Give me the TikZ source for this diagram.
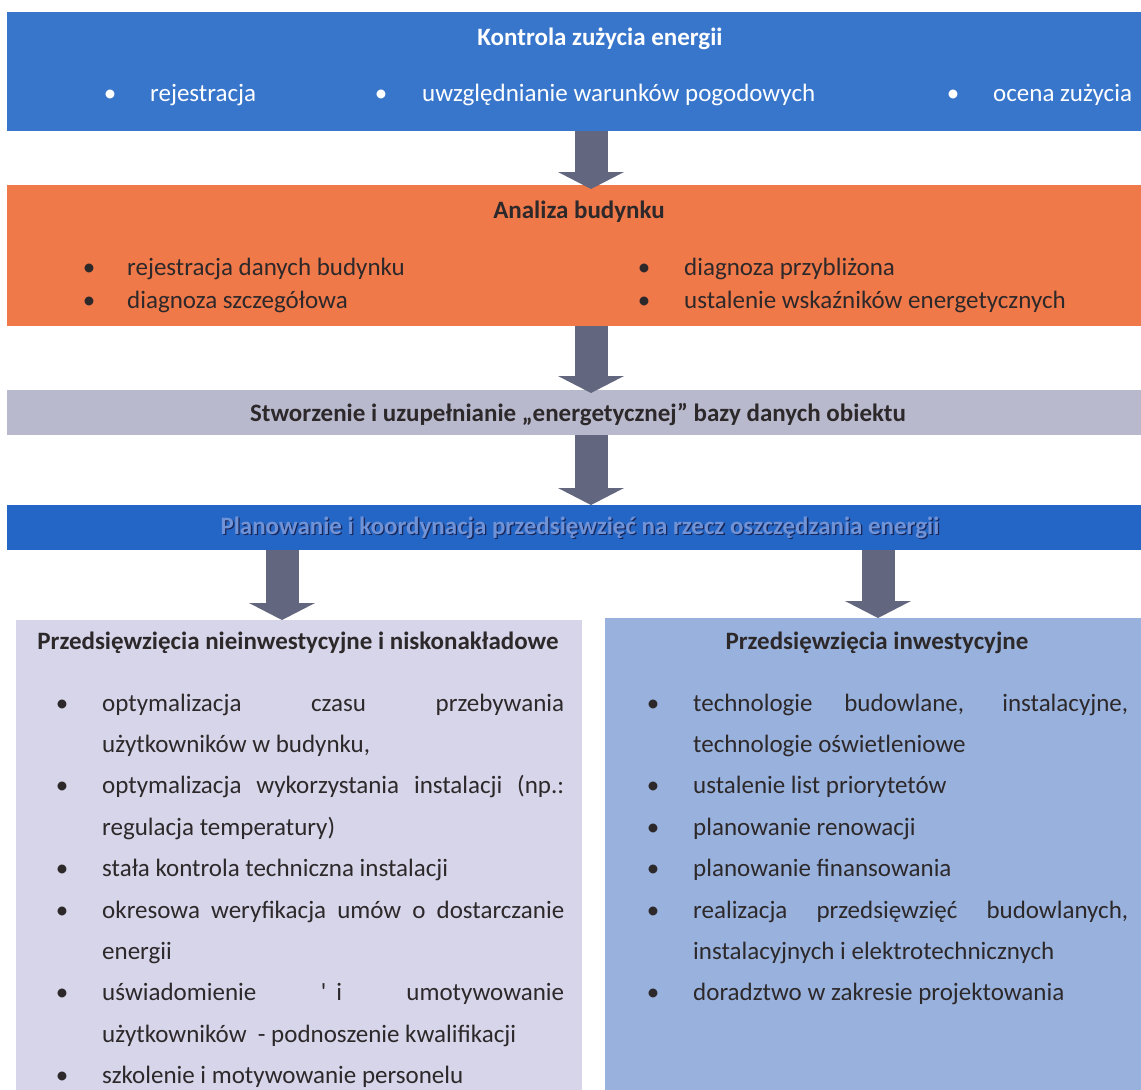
\documentclass[tikz,border=0pt]{standalone}
\usepackage{fontspec}
\setmainfont{Carlito}
\usetikzlibrary{arrows.meta}

\definecolor{niebieski}{RGB}{56,118,204}
\definecolor{pomarancz}{RGB}{240,121,74}
\definecolor{szarosc}{RGB}{185,185,205}
\definecolor{granat}{RGB}{36,102,198}
\definecolor{lawenda}{RGB}{214,213,233}
\definecolor{blekit}{RGB}{153,178,221}
\definecolor{strzalka}{RGB}{98,102,127}
\definecolor{ciemny}{RGB}{45,40,42}
\definecolor{jasny}{RGB}{112,146,214}
\definecolor{cien}{RGB}{24,38,88}

\begin{document}
\begin{tikzpicture}[x=1pt, y=-1pt]

	\tikzstyle{pasek}=[draw=none, anchor=north west, inner sep=0pt]
	\tikzstyle{tekst}=[inner sep=0pt, anchor=base west, text=ciemny, font=\fontsize{25pt}{30pt}\selectfont]
	\tikzstyle{tytul}=[tekst, anchor=base, font=\fontsize{25pt}{30pt}\selectfont\bfseries]
	\tikzstyle{kropka}=[tekst, anchor=base]
	\tikzstyle{strzala}=[draw=strzalka, line width=33pt, -{Triangle[width=66pt, length=17pt, line width=0pt]}]

	\fill[white] (0, 0) rectangle (1141, 1090);
	\useasboundingbox (0, 0) rectangle (1141, 1090);

	\coordinate (kontrola) at (7, 12);
	\coordinate (analiza) at (7, 185);
	\coordinate (baza) at (7, 390);
	\coordinate (plan) at (7, 505);
	\coordinate (box_l) at (16, 620);
	\coordinate (box_p) at (605, 618);

	\coordinate (a_m) at (591, 0); % STRZALKI SRODEK
	\coordinate (a_l) at (282, 0); % STRZALKA LEWA
	\coordinate (a_p) at (878, 0); % STRZALKA PRAWA

	%%%%%%%% PASKI %%%%%%%%
	\node[pasek, fill=niebieski, minimum width=1134pt, minimum height=119pt] (kontrola) at (kontrola) {};
	\node[pasek, fill=pomarancz, minimum width=1134pt, minimum height=141pt] (analiza) at (analiza) {};
	\node[pasek, fill=szarosc, minimum width=1134pt, minimum height=45pt] (baza) at (baza) {};
	\node[pasek, fill=granat, minimum width=1134pt, minimum height=45pt] (plan) at (plan) {};
	\node[pasek, fill=lawenda, minimum width=566pt, minimum height=470pt] (box_l) at (box_l) {};
	\node[pasek, fill=blekit, minimum width=536pt, minimum height=472pt] (box_p) at (box_p) {};

	%%%%%%%% KONTROLA ZUZYCIA ENERGII %%%%%%%%
	\node[tytul, text=white] (t_kontrola) at (600, 45) {Kontrola zużycia energii};
	\node[kropka, text=white] (k_1) at (110, 101) {•};
	\node[kropka, text=white] (k_2) at (381, 101) {•};
	\node[kropka, text=white] (k_3) at (953, 101) {•};
	\node[tekst, text=white] (r_1) at (150, 101) {rejestracja};
	\node[tekst, text=white] (r_2) at (422, 101) {uwzględnianie warunków pogodowych};
	\node[tekst, text=white] (r_3) at (993, 101) {ocena zużycia};

	%%%%%%%% ANALIZA BUDYNKU %%%%%%%%
	\node[tytul] (t_analiza) at (579, 218) {Analiza budynku};
	\node[kropka] (k_4) at (89, 275) {•};
	\node[kropka] (k_5) at (89, 308) {•};
	\node[kropka] (k_6) at (644, 275) {•};
	\node[kropka] (k_7) at (644, 308) {•};
	\node[tekst] (r_4) at (127, 275) {rejestracja danych budynku};
	\node[tekst] (r_5) at (127, 308) {diagnoza szczegółowa};
	\node[tekst] (r_6) at (684, 275) {diagnoza przybliżona};
	\node[tekst] (r_7) at (684, 308) {ustalenie wskaźników energetycznych};

	%%%%%%%% BAZA DANYCH %%%%%%%%
	\node[tytul] (t_baza) at (578, 421) {Stworzenie i uzupełnianie „energetycznej” bazy danych obiektu};

	%%%%%%%% PLANOWANIE %%%%%%%%
	\coordinate (t_plan) at (580, 534);
	\node[tytul, text=cien] (t_plan_c) at ([xshift=1.3pt, yshift=-1.3pt]t_plan) {Planowanie i koordynacja przedsięwzięć na rzecz oszczędzania energii};
	\node[tytul, text=jasny] (t_plan) at (t_plan) {Planowanie i koordynacja przedsięwzięć na rzecz oszczędzania energii};

	%%%%%%%% PRZEDSIEWZIECIA NIEINWESTYCYJNE %%%%%%%%
	\node[tytul] (t_box_l) at (298, 649) {Przedsięwzięcia nieinwestycyjne i niskonakładowe};
	\node[kropka] (k_l_1) at (62, 711) {•};
	\node[kropka] (k_l_2) at (62, 793.8) {•};
	\node[kropka] (k_l_3) at (62, 876.6) {•};
	\node[kropka] (k_l_4) at (62, 918) {•};
	\node[kropka] (k_l_5) at (62, 1000.8) {•};
	\node[kropka] (k_l_6) at (62, 1083.6) {•};
	\node[tekst] (l_1) at (102, 711) {\makebox[462pt][s]{optymalizacja czasu przebywania}};
	\node[tekst] (l_2) at (102, 752.4) {użytkowników w budynku,};
	\node[tekst] (l_3) at (102, 793.8) {\makebox[462pt][s]{optymalizacja wykorzystania instalacji (np.:}};
	\node[tekst] (l_4) at (102, 835.2) {regulacja temperatury)};
	\node[tekst] (l_5) at (102, 876.6) {stała kontrola techniczna instalacji};
	\node[tekst] (l_6) at (102, 918) {\makebox[462pt][s]{okresowa weryfikacja umów o dostarczanie}};
	\node[tekst] (l_7) at (102, 959.4) {energii};
	\node[tekst] (l_8) at (102, 1000.8) {\makebox[462pt][s]{uświadomienie \textquotesingle\hspace{10pt}i umotywowanie}};
	\node[tekst] (l_9) at (102, 1042.2) {użytkowników\ \ - podnoszenie kwalifikacji};
	\node[tekst] (l_10) at (102, 1083.6) {szkolenie i motywowanie personelu};

	%%%%%%%% PRZEDSIEWZIECIA INWESTYCYJNE %%%%%%%%
	\node[tytul] (t_box_p) at (877, 649) {Przedsięwzięcia inwestycyjne};
	\node[kropka] (k_p_1) at (653, 711) {•};
	\node[kropka] (k_p_2) at (653, 793.8) {•};
	\node[kropka] (k_p_3) at (653, 835.2) {•};
	\node[kropka] (k_p_4) at (653, 876.6) {•};
	\node[kropka] (k_p_5) at (653, 918) {•};
	\node[kropka] (k_p_6) at (653, 1000.8) {•};
	\node[tekst] (p_1) at (693, 711) {\makebox[435pt][s]{technologie budowlane, instalacyjne,}};
	\node[tekst] (p_2) at (693, 752.4) {technologie oświetleniowe};
	\node[tekst] (p_3) at (693, 793.8) {ustalenie list priorytetów};
	\node[tekst] (p_4) at (693, 835.2) {planowanie renowacji};
	\node[tekst] (p_5) at (693, 876.6) {planowanie finansowania};
	\node[tekst] (p_6) at (693, 918) {\makebox[435pt][s]{realizacja przedsięwzięć budowlanych,}};
	\node[tekst] (p_7) at (693, 959.4) {instalacyjnych i elektrotechnicznych};
	\node[tekst] (p_8) at (693, 1000.8) {doradztwo w zakresie projektowania};

	%%%%%%%% STRZALKI %%%%%%%%
	\draw[strzala] (kontrola.south -| a_m) -- ([yshift=-4pt]analiza.north -| a_m);
	\draw[strzala] (analiza.south -| a_m) -- ([yshift=-3pt]baza.north -| a_m);
	\draw[strzala] (baza.south -| a_m) -- (plan.north -| a_m);
	\draw[strzala] (plan.south -| a_l) -- (box_l.north -| a_l);
	\draw[strzala] (plan.south -| a_p) -- (box_p.north -| a_p);
\end{tikzpicture}
\end{document}
